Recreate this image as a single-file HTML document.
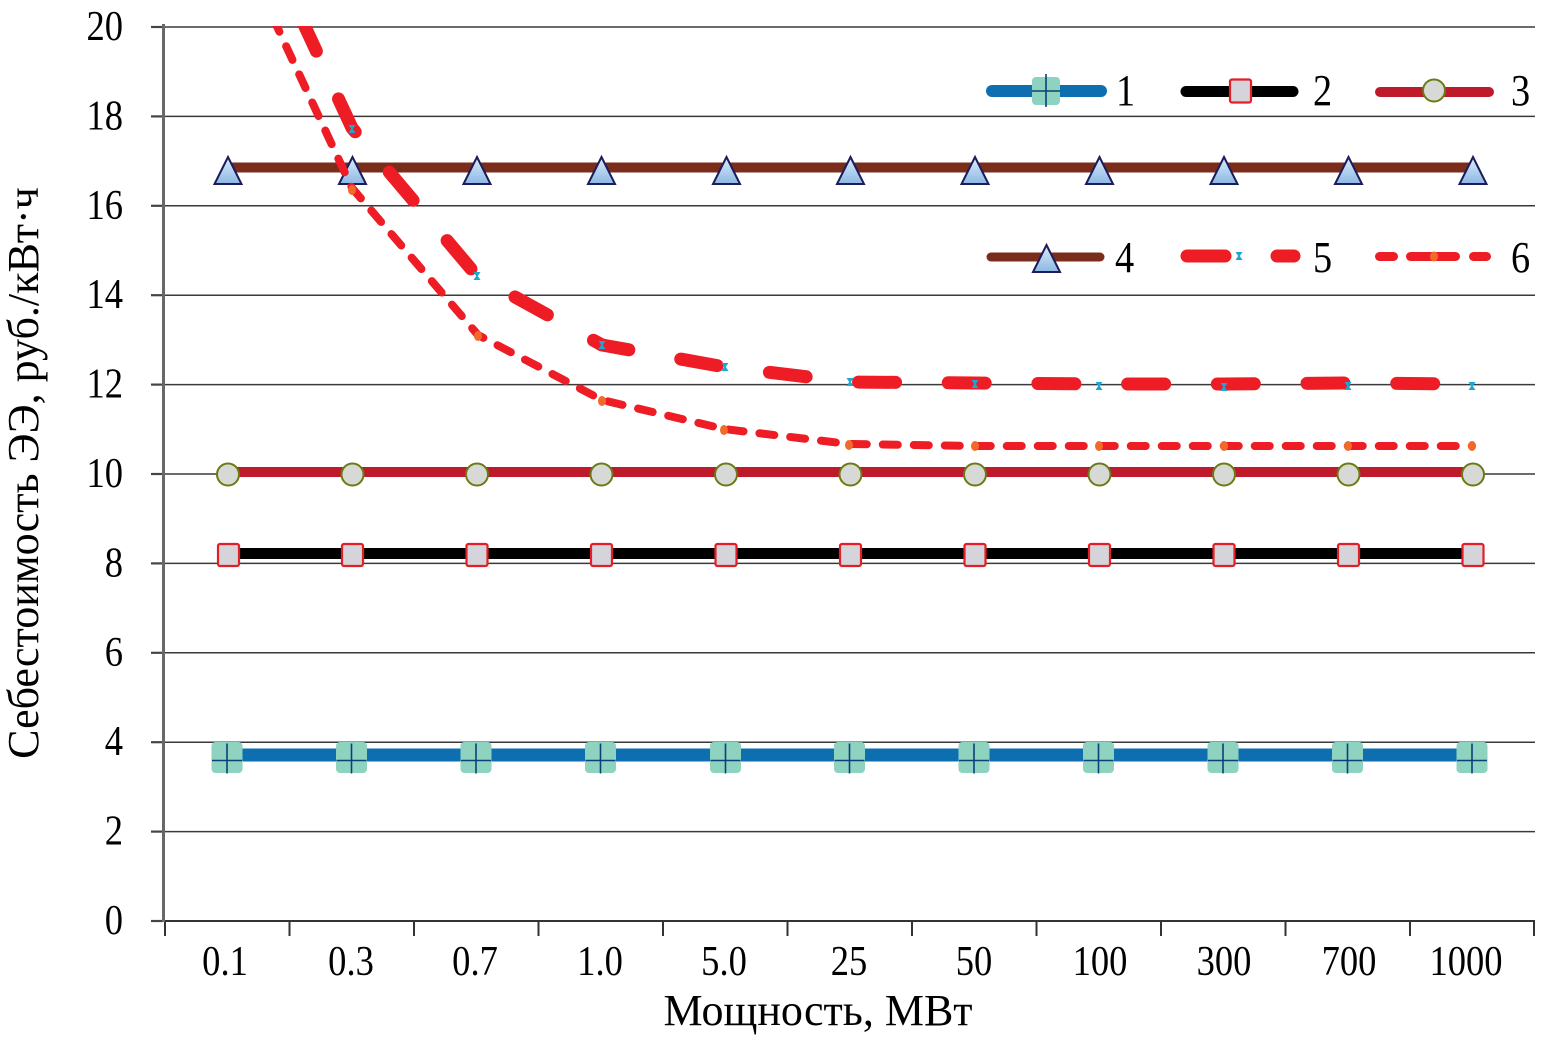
<!DOCTYPE html>
<html>
<head>
<meta charset="utf-8">
<style>
html,body{margin:0;padding:0;background:#fff;}
svg{display:block;}
text{font-family:"Liberation Serif","DejaVu Serif",serif;fill:#000;}
</style>
</head>
<body>
<svg width="1543" height="1044" viewBox="0 0 1543 1044" xmlns="http://www.w3.org/2000/svg">
<defs>
  <linearGradient id="tri" x1="0" y1="0" x2="0" y2="1">
    <stop offset="0" stop-color="#dcecfa"/>
    <stop offset="1" stop-color="#8cb8e4"/>
  </linearGradient>
  <clipPath id="plot"><rect x="163" y="26" width="1380" height="900"/></clipPath>
  <g id="m1">
    <rect x="-15.5" y="-15.5" width="31" height="31" rx="4" fill="#8ed2c0"/>
    <line x1="0" y1="-14" x2="0" y2="16" stroke="#0d3f78" stroke-width="1.6"/>
    <line x1="-15" y1="3" x2="15" y2="3" stroke="#0d3f78" stroke-width="1.6"/>
  </g>
  <g id="m2"><rect x="-10.5" y="-11" width="21" height="22" rx="2" fill="#d4d4da" stroke="#e41e26" stroke-width="2.2"/></g>
  <g id="m3"><circle r="11" fill="#d6d9d6" stroke="#6b7a12" stroke-width="2"/></g>
  <g id="m4"><polygon points="0,0 13.5,27 -13.5,27" fill="url(#tri)" stroke="#1c1c5c" stroke-width="2" stroke-linejoin="miter"/></g>
  <g id="m5"><polygon points="-3.5,-4 3.5,-4 0.8,0 3.5,4 -3.5,4 -0.8,0" fill="#1aa6d6"/></g>
  <g id="m6"><ellipse rx="4" ry="5" fill="#f26a2a"/></g>
</defs>

<!-- gridlines -->
<g stroke="#3a3a3a" stroke-width="1.5">
  <line x1="163" y1="27" x2="1535" y2="27"/>
  <line x1="163" y1="116.4" x2="1535" y2="116.4"/>
  <line x1="163" y1="205.8" x2="1535" y2="205.8"/>
  <line x1="163" y1="295.2" x2="1535" y2="295.2"/>
  <line x1="163" y1="384.6" x2="1535" y2="384.6"/>
  <line x1="163" y1="474" x2="1535" y2="474"/>
  <line x1="163" y1="563.4" x2="1535" y2="563.4"/>
  <line x1="163" y1="652.8" x2="1535" y2="652.8"/>
  <line x1="163" y1="742.2" x2="1535" y2="742.2"/>
  <line x1="163" y1="831.6" x2="1535" y2="831.6"/>
</g>
<!-- y ticks -->
<g stroke="#444" stroke-width="2.2">
  <line x1="151" y1="27" x2="163" y2="27"/>
  <line x1="151" y1="116.4" x2="163" y2="116.4"/>
  <line x1="151" y1="205.8" x2="163" y2="205.8"/>
  <line x1="151" y1="295.2" x2="163" y2="295.2"/>
  <line x1="151" y1="384.6" x2="163" y2="384.6"/>
  <line x1="151" y1="474" x2="163" y2="474"/>
  <line x1="151" y1="563.4" x2="163" y2="563.4"/>
  <line x1="151" y1="652.8" x2="163" y2="652.8"/>
  <line x1="151" y1="742.2" x2="163" y2="742.2"/>
  <line x1="151" y1="831.6" x2="163" y2="831.6"/>
  <line x1="151" y1="921" x2="163" y2="921"/>
</g>
<!-- x axis -->
<line x1="163" y1="921" x2="1535" y2="921" stroke="#333" stroke-width="2"/>
<g stroke="#333" stroke-width="2">
  <line x1="165" y1="921" x2="165" y2="936"/>
  <line x1="289.5" y1="921" x2="289.5" y2="936"/>
  <line x1="414" y1="921" x2="414" y2="936"/>
  <line x1="538.5" y1="921" x2="538.5" y2="936"/>
  <line x1="663" y1="921" x2="663" y2="936"/>
  <line x1="787.5" y1="921" x2="787.5" y2="936"/>
  <line x1="912" y1="921" x2="912" y2="936"/>
  <line x1="1036.5" y1="921" x2="1036.5" y2="936"/>
  <line x1="1161" y1="921" x2="1161" y2="936"/>
  <line x1="1285.5" y1="921" x2="1285.5" y2="936"/>
  <line x1="1410" y1="921" x2="1410" y2="936"/>
  <line x1="1534" y1="921" x2="1534" y2="936"/>
</g>
<!-- y axis line -->
<line x1="163.5" y1="24" x2="163.5" y2="922" stroke="#686868" stroke-width="3"/>

<!-- y tick labels -->
<g font-size="42" text-anchor="end">
  <text transform="translate(123,40) scale(0.87,1)">20</text>
  <text transform="translate(123,129.4) scale(0.87,1)">18</text>
  <text transform="translate(123,218.8) scale(0.87,1)">16</text>
  <text transform="translate(123,308.2) scale(0.87,1)">14</text>
  <text transform="translate(123,397.6) scale(0.87,1)">12</text>
  <text transform="translate(123,487) scale(0.87,1)">10</text>
  <text transform="translate(123,576.4) scale(0.87,1)">8</text>
  <text transform="translate(123,665.8) scale(0.87,1)">6</text>
  <text transform="translate(123,755.2) scale(0.87,1)">4</text>
  <text transform="translate(123,844.6) scale(0.87,1)">2</text>
  <text transform="translate(123,934) scale(0.87,1)">0</text>
</g>
<!-- x tick labels -->
<g font-size="42" text-anchor="middle">
  <text transform="translate(225,975) scale(0.87,1)">0.1</text>
  <text transform="translate(351,975) scale(0.87,1)">0.3</text>
  <text transform="translate(475,975) scale(0.87,1)">0.7</text>
  <text transform="translate(600,975) scale(0.87,1)">1.0</text>
  <text transform="translate(724,975) scale(0.87,1)">5.0</text>
  <text transform="translate(849,975) scale(0.87,1)">25</text>
  <text transform="translate(974,975) scale(0.87,1)">50</text>
  <text transform="translate(1100,975) scale(0.87,1)">100</text>
  <text transform="translate(1224,975) scale(0.87,1)">300</text>
  <text transform="translate(1349,975) scale(0.87,1)">700</text>
  <text transform="translate(1466,975) scale(0.87,1)">1000</text>
</g>
<!-- axis titles -->
<text x="818" y="1025" font-size="44" text-anchor="middle">Мощность, МВт</text>
<text transform="translate(38,473) rotate(-90)" font-size="44" text-anchor="middle">Себестоимость ЭЭ, руб./кВт·ч</text>

<!-- series 1 -->
<line x1="227" y1="755" x2="1472" y2="755" stroke="#0d6eb0" stroke-width="13"/>
<g>
  <use href="#m1" x="227" y="757.5"/><use href="#m1" x="351.5" y="757.5"/><use href="#m1" x="476" y="757.5"/>
  <use href="#m1" x="600.5" y="757.5"/><use href="#m1" x="725.5" y="757.5"/><use href="#m1" x="849.5" y="757.5"/>
  <use href="#m1" x="974" y="757.5"/><use href="#m1" x="1098.5" y="757.5"/><use href="#m1" x="1223" y="757.5"/>
  <use href="#m1" x="1347.5" y="757.5"/><use href="#m1" x="1472" y="757.5"/>
</g>
<!-- series 2 -->
<line x1="227" y1="553.5" x2="1472" y2="553.5" stroke="#000" stroke-width="11"/>
<g>
  <use href="#m2" x="228.5" y="555"/><use href="#m2" x="352.5" y="555"/><use href="#m2" x="477" y="555"/>
  <use href="#m2" x="601.5" y="555"/><use href="#m2" x="726" y="555"/><use href="#m2" x="850.5" y="555"/>
  <use href="#m2" x="975" y="555"/><use href="#m2" x="1099.5" y="555"/><use href="#m2" x="1224" y="555"/>
  <use href="#m2" x="1348.5" y="555"/><use href="#m2" x="1473" y="555"/>
</g>
<!-- series 3 -->
<line x1="227" y1="472" x2="1472" y2="472" stroke="#be1a2c" stroke-width="10"/>
<g>
  <use href="#m3" x="228" y="474.5"/><use href="#m3" x="352.5" y="474.5"/><use href="#m3" x="477" y="474.5"/>
  <use href="#m3" x="601.5" y="474.5"/><use href="#m3" x="726" y="474.5"/><use href="#m3" x="850.5" y="474.5"/>
  <use href="#m3" x="975" y="474.5"/><use href="#m3" x="1099.5" y="474.5"/><use href="#m3" x="1224" y="474.5"/>
  <use href="#m3" x="1348.5" y="474.5"/><use href="#m3" x="1473" y="474.5"/>
</g>
<!-- series 4 -->
<line x1="228" y1="167.5" x2="1473" y2="167.5" stroke="#7b2d1b" stroke-width="10"/>
<g>
  <use href="#m4" x="228" y="157"/><use href="#m4" x="352.5" y="157"/><use href="#m4" x="477" y="157"/>
  <use href="#m4" x="601.5" y="157"/><use href="#m4" x="726.5" y="157"/><use href="#m4" x="850.5" y="157"/>
  <use href="#m4" x="975" y="157"/><use href="#m4" x="1099.5" y="157"/><use href="#m4" x="1224" y="157"/>
  <use href="#m4" x="1348.5" y="157"/><use href="#m4" x="1473" y="157"/>
</g>

<!-- series 6 -->
<g clip-path="url(#plot)">
  <polyline points="260,-10 352,188 478,335 602,400 724,429 849,444 975,446 1099,446 1224,446 1348,446 1472,446"
    fill="none" stroke="#ee1c25" stroke-width="8" stroke-dasharray="15 16" stroke-linecap="round" stroke-linejoin="round"/>
</g>
<g>
  <use href="#m6" x="352" y="190"/><use href="#m6" x="478" y="336"/><use href="#m6" x="602" y="401"/>
  <use href="#m6" x="724" y="430"/><use href="#m6" x="849" y="445"/><use href="#m6" x="975" y="446"/>
  <use href="#m6" x="1099" y="446"/><use href="#m6" x="1224" y="446"/><use href="#m6" x="1348" y="446"/>
  <use href="#m6" x="1472" y="446"/>
</g>
<!-- series 5 -->
<g clip-path="url(#plot)">
  <polyline points="288,-10 352,128 477,276 602,345 725,367 850,382 975,383 1099,384 1224,384 1348,383 1472,384"
    fill="none" stroke="#ee1c25" stroke-width="13" stroke-dasharray="37 52.7" stroke-dashoffset="59.3" stroke-linecap="round" stroke-linejoin="round"/>
</g>
<g>
  <use href="#m5" x="352" y="129"/><use href="#m5" x="477" y="276"/><use href="#m5" x="602" y="345"/>
  <use href="#m5" x="725" y="367"/><use href="#m5" x="850" y="382"/><use href="#m5" x="975" y="384"/>
  <use href="#m5" x="1099" y="386"/><use href="#m5" x="1224" y="387"/><use href="#m5" x="1348" y="386"/>
  <use href="#m5" x="1472" y="386"/>
</g>

<!-- legend row 1 -->
<line x1="992" y1="91" x2="1101" y2="91" stroke="#0d6eb0" stroke-width="12" stroke-linecap="round"/>
<g transform="translate(1046,88)">
  <rect x="-14" y="-11" width="28" height="28" rx="4" fill="#8ed2c0"/>
  <line x1="0" y1="-14" x2="0" y2="19" stroke="#0d3f78" stroke-width="1.6"/>
  <line x1="-14" y1="3" x2="14" y2="3" stroke="#0d3f78" stroke-width="1.6"/>
</g>
<text transform="translate(1116,105) scale(0.87,1)" font-size="44">1</text>

<line x1="1186" y1="91.5" x2="1293" y2="91.5" stroke="#000" stroke-width="11" stroke-linecap="round"/>
<rect x="1230" y="79.5" width="21" height="23" rx="2" fill="#d4d4da" stroke="#e41e26" stroke-width="2.2"/>
<text transform="translate(1313,105) scale(0.87,1)" font-size="44">2</text>

<line x1="1380" y1="92" x2="1489" y2="92" stroke="#be1a2c" stroke-width="10" stroke-linecap="round"/>
<circle cx="1434" cy="90.5" r="11" fill="#d6d9d6" stroke="#6b7a12" stroke-width="2"/>
<text transform="translate(1511,105) scale(0.87,1)" font-size="44">3</text>

<!-- legend row 2 -->
<line x1="991" y1="257" x2="1100" y2="257" stroke="#7b2d1b" stroke-width="9" stroke-linecap="round"/>
<polygon points="1046.5,245 1060,272 1033,272" fill="url(#tri)" stroke="#1c1c5c" stroke-width="2"/>
<text transform="translate(1115,272) scale(0.87,1)" font-size="44">4</text>

<line x1="1187" y1="256" x2="1225" y2="256" stroke="#ee1c25" stroke-width="13" stroke-linecap="round"/>
<line x1="1277" y1="256" x2="1294" y2="256" stroke="#ee1c25" stroke-width="13" stroke-linecap="round"/>
<polygon points="1235.5,252 1242.5,252 1239.8,256 1242.5,260 1235.5,260 1238.2,256" fill="#1aa6d6"/>
<text transform="translate(1313,272) scale(0.87,1)" font-size="44">5</text>

<g stroke="#ee1c25" stroke-width="9" stroke-linecap="round">
  <line x1="1379.5" y1="256.5" x2="1393.5" y2="256.5"/>
  <line x1="1410.5" y1="256.5" x2="1455.5" y2="256.5"/>
  <line x1="1473.5" y1="256.5" x2="1486.5" y2="256.5"/>
</g>
<ellipse cx="1434" cy="256.5" rx="4" ry="5" fill="#f26a2a"/>
<text transform="translate(1511,272) scale(0.87,1)" font-size="44">6</text>
</svg>
</body>
</html>
